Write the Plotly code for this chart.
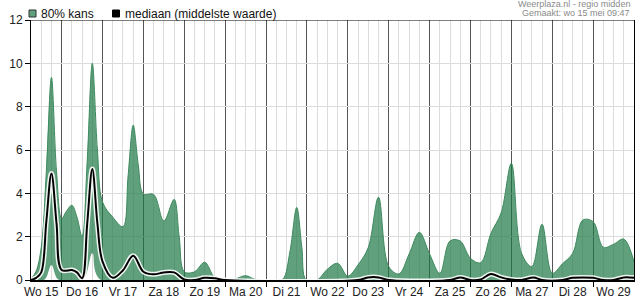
import plotly.graph_objects as go

# ---- data (hours since Wo 15 00:00) ----
upper_t = [6, 9, 12, 15, 18, 21, 24, 27, 30, 33, 36, 39, 42, 45, 48, 54, 60, 63, 66, 69,
           72, 78, 84, 90, 93, 96, 102, 108, 114, 120, 126, 132, 138, 150, 154, 158, 162,
           165, 167.5, 174, 180, 186, 192, 198, 204, 210, 216, 222, 228, 234, 240, 246,
           252, 258, 264, 270, 276, 282, 288, 294, 300, 306, 312, 318, 324, 330, 336,
           342, 348, 354, 360]
upper_v = [0.05, 0.4, 1.5, 5.0, 9.35, 5.0, 2.85, 3.2, 3.45, 2.9, 2.0, 5.5, 10.0, 6.0, 3.6,
           2.9, 2.46, 4.8, 7.15, 5.3, 3.97, 3.95, 2.72, 3.72, 2.0, 0.38, 0.38, 0.82, 0.1,
           0.02, 0.05, 0.2, 0.02, 0.0, 0.05, 1.3, 3.35, 1.5, 0.0, 0.0, 0.5, 0.77, 0.18,
           0.7, 1.5, 3.82, 0.62, 0.28, 1.2, 2.2, 1.2, 0.31, 1.8, 1.8, 1.0, 0.8, 2.15, 3.1,
           5.38, 1.23, 0.62, 2.57, 0.31, 0.75, 1.23, 2.77, 2.69, 1.51, 1.65, 1.89, 0.85]

lower_t = [6, 14, 18, 22, 36.5, 42, 47, 360]
lower_v = [0.0, 0.02, 0.69, 0.02, 0.02, 1.23, 0.0, 0.0]

med_t = [6, 9, 12, 15, 18, 21, 24, 30, 33, 36, 39, 42, 45, 48, 54, 60, 66, 72, 78, 84,
         90, 96, 102, 108, 114, 120, 198, 204, 210, 216, 252, 258, 264, 270, 276, 282,
         288, 294, 301, 306, 318, 324, 330, 336, 342, 348, 354, 360]
med_v = [0.0, 0.1, 0.35, 2.7, 4.92, 2.6, 0.46, 0.46, 0.35, 0.08, 2.6, 5.12, 2.6, 0.85,
         0.1, 0.45, 1.12, 0.38, 0.26, 0.35, 0.35, 0.02, 0.0, 0.1, 0.08, 0.0, 0.0, 0.12,
         0.12, 0.0, 0.0, 0.12, 0.0, 0.03, 0.28, 0.12, 0.02, 0.0, 0.12, 0.0, 0.0, 0.1,
         0.12, 0.1, 0.0, 0.0, 0.12, 0.1]

day_bounds = [24 * k for k in range(1, 15)]
day_centers = [12 + 24 * k for k in range(15)]
day_labels = ["Wo 15", "Do 16", "Vr 17", "Za 18", "Zo 19", "Ma 20", "Di 21", "Wo 22",
              "Do 23", "Vr 24", "Za 25", "Zo 26", "Ma 27", "Di 28", "Wo 29"]
y_ticks = [0, 2, 4, 6, 8, 10, 12]

legend_labels = ["80% kans", "mediaan (middelste waarde)"]
source_text = "Weerplaza.nl - regio midden"
made_text = "Gemaakt: wo 15 mei 09:47"

FONT = "Liberation Sans, Arial, sans-serif"
GREEN_FILL = "rgba(30,120,70,0.7)"
GREEN_LINE = "#3d8a5e"

W, H = 635, 300
ML, MR, MT, MB = 31, 1, 20, 20
PW, PH = W - ML - MR, H - MT - MB


def px(x):
    return (x - ML) / PW


def py(y):
    return (H - MB - y) / PH


fig = go.Figure()
fig.add_trace(go.Scatter(x=lower_t, y=lower_v, mode="lines",
                         line=dict(width=0, shape="spline", smoothing=1),
                         hoverinfo="skip", showlegend=False))
fig.add_trace(go.Scatter(x=upper_t, y=upper_v, mode="lines",
                         line=dict(width=1, color=GREEN_LINE, shape="spline", smoothing=1),
                         fill="tonexty", fillcolor=GREEN_FILL,
                         hoverinfo="skip", showlegend=False))
fig.add_trace(go.Scatter(x=med_t, y=med_v, mode="lines",
                         line=dict(width=5, color="rgba(255,255,255,0.9)", shape="spline", smoothing=1),
                         hoverinfo="skip", showlegend=False))
fig.add_trace(go.Scatter(x=med_t, y=med_v, mode="lines",
                         line=dict(width=2, color="black", shape="spline", smoothing=1),
                         hoverinfo="skip", showlegend=False))
# invisible trace for label axis
fig.add_trace(go.Scatter(x=[6, 360], y=[0, 0], xaxis="x2", mode="lines",
                         line=dict(width=0), hoverinfo="skip", showlegend=False))

fig.update_layout(
    template="none",
    width=W, height=H,
    margin=dict(l=ML, r=MR, t=MT, b=MB, pad=0),
    paper_bgcolor="white", plot_bgcolor="white",
    font=dict(family=FONT, size=12, color="#222"),
    xaxis=dict(range=[6, 360], tickvals=day_bounds, ticktext=[""] * len(day_bounds),
               ticks="outside", ticklen=5, tickcolor="black", automargin=False,
               showgrid=True, gridcolor="#555", gridwidth=1,
               showline=True, linecolor="black", linewidth=2, zeroline=False,
               minor=dict(dtick=6, tick0=0, showgrid=True, gridcolor="#dcdcdc", ticks=""),
               fixedrange=True),
    xaxis2=dict(range=[6, 360], overlaying="x", anchor="y", side="bottom",
                automargin=False,
                tickvals=day_centers, ticktext=day_labels, showgrid=False, showline=False,
                zeroline=False, ticks="outside", ticklen=1, tickcolor="rgba(0,0,0,0)",
                tickfont=dict(family=FONT, size=12, color="#222"), fixedrange=True),
    yaxis=dict(range=[0, 12], tickvals=y_ticks, ticks="outside", ticklen=5,
               tickcolor="black", showgrid=True, gridcolor="#dcdcdc", automargin=False,
               showline=True, linecolor="black", linewidth=1, mirror=True,
               zeroline=False, tickfont=dict(family=FONT, size=12, color="#222"),
               fixedrange=True),
    shapes=[
        dict(type="line", xref="paper", yref="y", x0=0, x1=1, y0=12, y1=12,
             line=dict(color="black", width=1)),
        dict(type="rect", xref="paper", yref="paper", x0=px(29), x1=px(36), y0=py(17), y1=py(10),
             fillcolor="#60a07d", line=dict(color="#333", width=1)),
        dict(type="rect", xref="paper", yref="paper", x0=px(112.5), x1=px(119.5), y0=py(17), y1=py(10),
             fillcolor="black", line=dict(color="black", width=1)),
    ],
    annotations=[
        dict(xref="paper", yref="paper", x=px(39), y=py(13.5), text=legend_labels[0],
             showarrow=False, xanchor="left", yanchor="middle",
             font=dict(family=FONT, size=12, color="#111")),
        dict(xref="paper", yref="paper", x=px(123), y=py(13.5), text=legend_labels[1],
             showarrow=False, xanchor="left", yanchor="middle",
             font=dict(family=FONT, size=12, color="#111")),
        dict(xref="paper", yref="paper", x=px(631), y=py(4), text=source_text,
             showarrow=False, xanchor="right", yanchor="middle", borderpad=0,
             font=dict(family=FONT, size=9, color="#8a8a8a")),
        dict(xref="paper", yref="paper", x=px(631), y=py(13), text=made_text,
             showarrow=False, xanchor="right", yanchor="middle", borderpad=0,
             font=dict(family=FONT, size=9, color="#8a8a8a")),
    ],
)

fig.write_html("out.html", include_plotlyjs=True, config={"displayModeBar": False})
